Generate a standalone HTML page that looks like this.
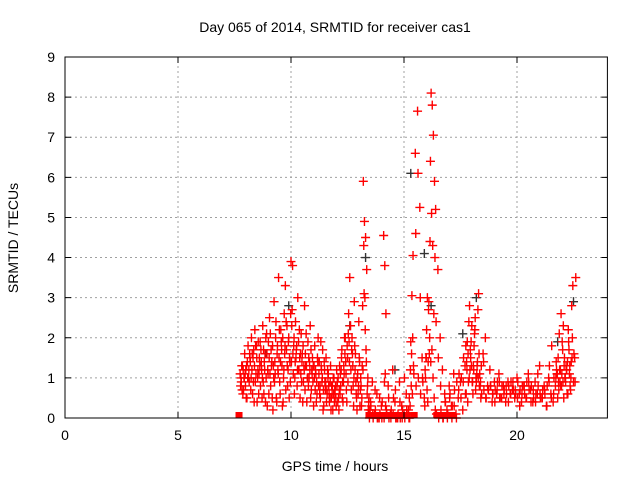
<!DOCTYPE html>
<html><head><meta charset="utf-8"><style>
body{margin:0;background:#fff}
svg{display:block;font-family:"Liberation Sans","DejaVu Sans",sans-serif}
</style></head><body>
<svg id="chart" width="640" height="480" viewBox="0 0 640 480">
<rect width="640" height="480" fill="#fff"/>
<text x="335" y="32" font-size="14" text-anchor="middle" fill="#000">Day 065 of 2014, SRMTID for receiver cas1</text>
<text x="335" y="471" font-size="14" text-anchor="middle" fill="#000">GPS time / hours</text>
<text x="18" y="238" font-size="14" text-anchor="middle" fill="#000" transform="rotate(-90 18 238)">SRMTID / TECUs</text>
<g id="grid"></g>
<g id="dark"></g>
<g id="red"></g>
<g id="axes"></g>
</svg>
<script>
const xTicks=[0,5,10,15,20];
const yTicks=[0,1,2,3,4,5,6,7,8,9];
const redT=[7.75,7.8,7.85,7.9,7.95,8.0,8.05,8.1,8.15,8.2,8.25,8.3,8.35,8.4,8.45,8.5,8.55,8.6,8.65,8.7,8.75,8.8,8.85,8.9,8.95,9.0,9.05,9.1,9.15,9.2,9.25,9.3,9.35,9.4,9.45,9.5,9.55,9.6,9.65,9.7,9.75,9.8,9.85,9.9,9.95,10.0,10.05,10.1,10.15,10.2,10.25,10.3,10.35,10.4,10.45,10.5,10.55,10.6,10.65,10.7,10.75,10.8,10.85,10.9,10.95,11.0,11.05,11.1,11.15,11.2,11.25,11.3,11.35,11.4,11.45,11.5,11.55,11.6,11.65,11.7,11.75,11.8,11.85,11.9,11.95,12.0,12.05,12.1,12.15,12.2,12.25,12.3,12.35,12.4,12.45,12.5,12.55,12.6,12.65,12.7,12.75,12.8,12.85,12.9,12.95,13.0,13.05,13.1,13.15,13.2,13.25,13.3,13.35,13.4,13.45,13.5,13.6,13.7,13.8,13.9,14.0,14.1,14.15,14.2,14.3,14.4,14.5,14.6,14.7,14.8,14.9,15.0,15.1,15.2,15.25,15.3,15.35,15.4,15.5,15.6,15.7,15.8,15.9,15.95,16.0,16.05,16.1,16.15,16.2,16.25,16.3,16.35,16.4,16.5,16.6,16.7,16.8,16.9,17.0,17.1,17.2,17.3,17.4,17.5,17.6,17.7,17.75,17.8,17.85,17.9,17.95,18.0,18.05,18.1,18.15,18.2,18.25,18.3,18.35,18.4,18.5,18.6,18.7,18.8,18.9,19.0,19.1,19.2,19.3,19.4,19.5,19.6,19.7,19.8,19.9,20.0,20.1,20.2,20.3,20.4,20.5,20.6,20.7,20.8,20.9,21.0,21.1,21.2,21.3,21.4,21.5,21.6,21.7,21.75,21.8,21.85,21.9,21.95,22.0,22.05,22.1,22.15,22.2,22.25,22.3,22.35,22.4,22.45,22.5,22.55,22.6];
const redA=[1.1,0.9,1.3,0.7,1.6,1.2,0.5,1.8,0.9,1.4,2.0,0.6,1.7,2.2,1.1,0.4,1.9,1.5,0.8,1.2,2.3,0.6,1.6,1.0,0.3,1.9,2.5,0.8,1.4,0.2,2.9,1.1,0.5,1.8,3.5,0.9,2.2,1.3,0.4,2.6,3.3,1.7,0.8,2.0,1.4,3.9,2.7,1.1,0.6,2.4,1.8,3.0,1.2,0.5,2.1,1.6,0.9,2.8,1.3,0.4,1.9,1.0,2.3,0.7,1.5,0.3,1.8,1.1,0.6,2.0,1.4,0.5,1.2,1.7,0.3,0.9,1.5,0.6,1.1,0.4,1.3,0.8,0.2,1.0,0.6,0.3,0.9,0.5,1.3,0.8,1.7,0.4,1.1,2.0,0.7,1.5,2.6,3.5,1.2,2.0,0.8,2.9,1.6,0.5,1.1,2.4,0.3,0.8,1.3,5.9,4.9,4.5,3.7,1.0,0.5,0.2,0.9,0.1,0.6,0.0,0.3,4.55,3.8,2.6,0.8,0.1,1.2,0.4,0.0,0.9,0.3,0.1,0.6,0.2,0.0,1.9,3.05,4.05,6.6,7.65,5.25,1.5,0.5,1.0,2.2,0.4,2.9,4.4,8.1,7.8,7.05,5.9,5.2,3.7,2.0,1.2,0.6,0.2,0.8,0.3,1.1,0.1,0.5,0.9,0.2,1.3,0.6,1.9,0.9,2.8,1.5,2.3,0.6,1.8,2.5,0.9,1.4,3.1,1.1,0.5,1.6,2.0,0.8,1.2,0.4,0.9,0.6,1.1,0.5,0.8,0.4,0.9,0.6,0.7,0.5,1.0,0.6,0.4,0.8,0.5,1.1,0.7,0.4,0.9,0.6,1.3,0.5,0.8,0.3,1.0,0.6,0.4,0.8,1.2,0.5,0.7,0.9,2.6,1.9,2.3,1.5,0.9,1.2,0.6,1.7,0.8,1.4,2.0,0.9,1.5,3.5,2.6,1.2,1.8];
const redB=[0.8,1.3,0.6,1.0,1.1,0.5,1.4,1.0,1.6,0.7,1.2,1.5,0.4,0.9,1.8,1.0,0.6,1.3,1.7,0.5,0.9,1.4,0.4,2.1,1.2,0.6,1.1,1.7,0.5,1.3,0.9,2.0,0.4,1.2,1.5,0.6,1.9,0.3,1.0,1.6,0.7,2.3,1.2,0.5,0.9,1.4,3.8,1.8,1.0,1.5,0.8,1.2,2.2,1.6,0.9,0.4,1.3,0.7,2.1,1.0,0.8,1.4,0.5,1.2,0.9,1.3,0.7,0.4,1.5,0.8,0.6,1.9,0.9,0.2,1.4,0.7,0.4,1.2,0.8,0.5,0.2,0.6,1.0,0.4,0.8,1.2,0.4,0.2,0.6,1.2,0.5,0.9,2.0,1.4,0.4,0.9,1.9,2.3,0.7,1.6,0.3,1.8,0.9,0.2,0.6,1.5,0.7,0.3,2.8,4.3,3.0,1.7,0.6,0.2,0.0,0.4,0.1,0.7,0.0,0.5,0.0,0.0,1.1,0.2,0.5,0.0,0.1,0.7,0.0,0.4,0.0,1.0,0.2,0.0,0.3,0.8,0.6,1.3,4.6,6.1,3.0,1.0,0.3,1.5,0.7,1.4,1.6,6.4,5.1,4.3,2.6,4.0,2.4,1.5,0.8,0.0,0.4,0.0,0.5,0.0,0.3,0.0,0.7,0.5,0.9,0.6,1.4,0.4,2.4,1.2,1.9,0.9,1.3,2.1,0.7,1.1,2.7,1.6,0.8,1.3,1.4,0.5,0.7,0.8,0.6,0.4,0.7,0.9,0.5,0.6,0.8,0.4,0.6,0.9,0.7,0.5,0.3,0.6,0.8,0.5,0.9,0.4,0.7,0.4,1.1,0.6,0.5,0.7,0.3,0.9,0.5,0.6,1.0,1.1,1.5,2.1,1.2,0.8,1.7,0.5,1.0,1.3,0.6,2.2,1.1,0.7,2.8,3.3,1.6,0.9];
const redC=[1.0,0.7,1.2,1.0,0.8,1.3,1.0,1.2,1.5,1.0,1.6,0.9,1.3,1.8,1.5,1.2,1.1,1.9,1.4,1.0,1.7,1.2,2.0,1.6,1.1,1.5,2.1,1.3,1.8,1.0,1.4,2.4,1.6,1.1,2.2,1.4,1.7,2.0,1.2,1.8,2.4,1.3,1.9,1.5,2.6,2.3,1.6,2.0,1.4,1.7,1.2,1.9,1.5,1.1,1.4,1.8,1.2,1.6,1.3,1.0,1.5,1.2,1.7,1.1,1.3,1.0,1.2,0.9,1.4,1.1,0.8,1.3,1.0,0.7,1.2,0.9,0.7,1.0,0.6,0.9,0.5,0.8,0.6,0.7,0.5,0.8,1.0,0.7,1.1,1.5,0.9,1.3,1.6,1.1,1.8,2.1,1.4,2.3,1.7,1.3,1.0,1.2,0.6,1.0,0.8,1.4,1.0,0.5,1.2,3.1,2.2,1.4,0.8,0.4,0.2,0.3,0.0,0.2,0.0,0.1,0.4,0.9,0.3,0.1,0.0,0.2,0.5,0.0,0.1,0.0,0.2,0.0,0.1,0.5,1.2,1.6,2.0,1.1,0.8,1.0,0.6,0.9,1.2,1.5,3.0,2.7,2.0,1.4,1.7,1.0,0.5,0.2,0.1,0.0,0.2,0.0,0.4,0.1,0.6,0.3,0.7,0.9,1.1,1.0,1.5,1.8,1.2,1.6,1.0,1.7,1.3,0.9,1.2,2.2,1.0,1.3,1.0,0.8,0.9,0.6,0.7,0.5,0.7,0.8,0.6,0.7,0.9,0.5,0.8,0.7,0.6,0.8,0.9,0.7,0.6,0.9,0.7,0.8,0.6,0.9,0.7,0.8,0.5,0.6,0.8,0.5,0.7,0.6,0.8,1.3,1.8,1.0,1.4,1.1,0.9,1.2,0.8,1.1,0.9,1.3,1.0,1.2,1.4,1.9,1.3,1.0,1.5];
const baseT=[7.7,13.45,13.55,13.75,13.85,14.05,14.25,14.35,14.55,14.75,14.85,15.05,15.15,15.45,16.45,16.55,16.75,16.95,17.05,17.15];
const darkT=[8.9,9.9,10.3,12.6,13.3,14.6,15.3,15.9,16.2,17.6,18.2,21.8,22.5];
const darkV=[1.6,2.8,1.2,2.3,4.0,1.2,6.1,4.1,2.8,2.1,3.0,1.9,2.9];
const X0=65,X1=607.4,Y0=418,Y1=57;
const xs=v=>X0+(X1-X0)*v/24, ys=v=>Y0-(Y0-Y1)*v/9;
const NS='http://www.w3.org/2000/svg';
function mk(tag,attrs,parent){const e=document.createElementNS(NS,tag);for(const k in attrs)e.setAttribute(k,attrs[k]);parent.appendChild(e);return e;}
const grid=document.getElementById('grid'),axes=document.getElementById('axes');
xTicks.forEach(t=>{const x=xs(t);
 if(t>0){const l=mk('line',{x1:x,x2:x,y1:Y0,y2:Y1,stroke:'#a0a0a0','stroke-dasharray':'2,3'},grid);}
 const tk=mk('path',{d:`M${x},${Y0}v-6M${x},${Y1}v6`,stroke:'#000'},axes);
 const tx=mk('text',{x:x,y:Y0+22,'font-size':14,'text-anchor':'middle'},axes);tx.textContent=t;});
yTicks.forEach(t=>{const y=ys(t);
 if(t>0&&t<9){const l=mk('line',{x1:X0,x2:X1,y1:y,y2:y,stroke:'#a0a0a0','stroke-dasharray':'2,3'},grid);}
 const tk=mk('path',{d:`M${X0},${y}h6M${X1},${y}h-6`,stroke:'#000'},axes);
 const tx=mk('text',{x:X0-10,y:y+5,'font-size':14,'text-anchor':'end'},axes);tx.textContent=t;});
const fr=mk('rect',{x:X0,y:Y1,width:X1-X0,height:Y0-Y1,fill:'none',stroke:'#000'},axes);


function plus(g,t,v,c){const x=xs(t),y=ys(v);const p=mk('path',{d:`M${x-4.5},${y}h9M${x},${y-4.5}v9`,stroke:c,'stroke-width':1.4},g);
 
 }
const dg=document.getElementById('dark'),rg=document.getElementById('red');
darkT.forEach((t,i)=>plus(dg,t,darkV[i],'#333'));
redT.forEach((t,i)=>{plus(rg,t,redA[i],'#f00');plus(rg,t+0.02,redB[i],'#f00');if(redC[i]!==undefined)plus(rg,t+0.035,redC[i],'#f00');});
baseT.forEach(t=>{const r=mk('rect',{x:xs(t)-3.5,y:Y0-6,width:7,height:6,fill:'#f00'},rg);
 
 });
</script>
</body></html>
